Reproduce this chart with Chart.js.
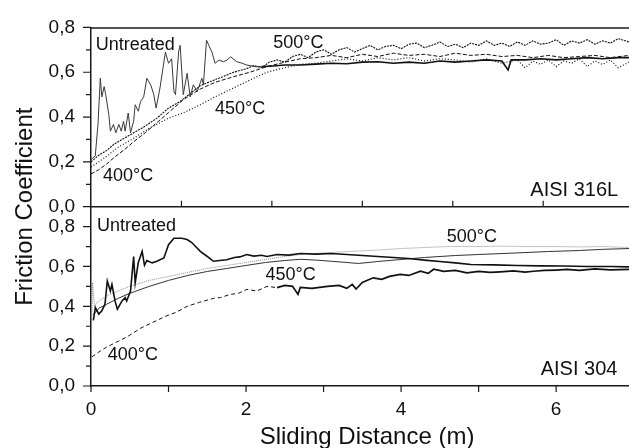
<!DOCTYPE html>
<html>
<head>
<meta charset="utf-8">
<script src="https://cdn.jsdelivr.net/npm/chart.js@4.4.0/dist/chart.umd.min.js"></script>
<style>
html, body { margin: 0; padding: 0; background: #fff; }
#wrap { position: relative; width: 629px; height: 448px; }
</style>
</head>
<body>
<div id="wrap"><canvas id="friction" width="629" height="448"></canvas></div>
<script>
// Friction coefficient vs sliding distance, two materials stacked
// points are [distance m, coefficient]

var xMajorTicks = [0, 2, 4, 6];
var xMinorTicks = [1, 3, 5];
var topPanelXTicks = [1.167, 2.333, 3.5, 4.667, 5.833];
var yMajorTicks = [0, 0.2, 0.4, 0.6, 0.8];
var yMinorTicks = [0.1, 0.3, 0.5, 0.7];

// --- AISI 316L (upper panel)
var top316Untreated = [[0,0.21],[0.055,0.227],[0.09,0.367],[0.12,0.573],[0.14,0.49],[0.17,0.536],[0.19,0.50],[0.23,0.41],[0.25,0.337],[0.29,0.367],
  [0.32,0.33],[0.36,0.367],[0.39,0.337],[0.42,0.381],[0.44,0.337],[0.48,0.418],[0.51,0.33],[0.55,0.381],[0.57,0.455],[0.61,0.426],
  [0.64,0.47],[0.68,0.49],[0.72,0.573],[0.77,0.544],[0.81,0.50],[0.84,0.44],[0.89,0.53],[0.96,0.69],[1.0,0.64],[1.04,0.66],
  [1.07,0.514],[1.09,0.50],[1.13,0.69],[1.15,0.72],[1.19,0.50],[1.24,0.595],[1.28,0.49],[1.32,0.544],[1.37,0.514],[1.43,0.573],
  [1.45,0.544],[1.49,0.743],[1.52,0.72],[1.56,0.69],[1.6,0.64],[1.65,0.654],[1.71,0.647],[1.76,0.655],[1.8,0.669],[1.88,0.647],
  [1.95,0.64],[2.01,0.632],[2.12,0.625],[2.2,0.625],[2.35,0.628],[2.5,0.632],[2.7,0.632],[2.9,0.636],[3.1,0.64],[3.3,0.638],
  [3.5,0.645],[3.7,0.647],[3.9,0.64],[4.1,0.645],[4.3,0.64],[4.5,0.65],[4.7,0.645],[4.9,0.65],[5.1,0.655],[5.3,0.65],
  [5.38,0.61],[5.42,0.655],[5.6,0.655],[5.8,0.66],[6.0,0.655],[6.2,0.66],[6.4,0.665],[6.6,0.66],[6.8,0.665],[6.94,0.665]];
var top316T500 = [[0,0.20],[0.1,0.23],[0.2,0.25],[0.3,0.28],[0.4,0.30],[0.55,0.33],[0.7,0.36],[0.85,0.395],[1.0,0.44],[1.15,0.47],
  [1.3,0.51],[1.41,0.54],[1.55,0.56],[1.7,0.58],[1.84,0.60],[2.0,0.615],[2.1,0.63],[2.2,0.62],[2.3,0.645],[2.4,0.655],
  [2.5,0.645],[2.6,0.67],[2.7,0.68],[2.8,0.665],[2.9,0.69],[3.0,0.70],[3.1,0.68],[3.2,0.70],[3.3,0.71],[3.4,0.69],
  [3.5,0.705],[3.6,0.72],[3.7,0.70],[3.8,0.715],[3.9,0.72],[4.0,0.705],[4.1,0.725],[4.2,0.73],[4.3,0.71],[4.4,0.72],
  [4.5,0.735],[4.6,0.715],[4.7,0.725],[4.8,0.71],[4.9,0.73],[5.0,0.72],[5.1,0.74],[5.2,0.72],[5.3,0.73],[5.4,0.715],
  [5.5,0.735],[5.6,0.72],[5.7,0.74],[5.8,0.725],[5.9,0.73],[6.0,0.745],[6.1,0.72],[6.2,0.74],[6.3,0.73],[6.4,0.745],
  [6.5,0.725],[6.6,0.74],[6.7,0.73],[6.8,0.75],[6.94,0.735]];
var top316T450 = [[0,0.177],[0.1,0.20],[0.2,0.225],[0.35,0.265],[0.55,0.305],[0.75,0.35],[1.0,0.395],[1.2,0.42],[1.41,0.455],[1.6,0.49],
  [1.84,0.53],[2.05,0.565],[2.27,0.60],[2.5,0.62],[2.7,0.635],[2.9,0.64],[3.1,0.65],[3.3,0.66],[3.5,0.65],[3.7,0.665],
  [3.9,0.655],[4.1,0.665],[4.3,0.65],[4.5,0.66],[4.7,0.655],[4.9,0.645],[5.1,0.66],[5.3,0.64],[5.5,0.655],[5.6,0.62],
  [5.7,0.65],[5.8,0.635],[5.9,0.655],[6.0,0.625],[6.1,0.65],[6.2,0.64],[6.3,0.66],[6.4,0.625],[6.5,0.65],[6.6,0.635],
  [6.7,0.655],[6.8,0.62],[6.94,0.645]];
var top316T400 = [[0,0.146],[0.1,0.165],[0.2,0.19],[0.3,0.22],[0.45,0.26],[0.55,0.29],[0.7,0.33],[0.85,0.375],[1.0,0.42],[1.2,0.48],
  [1.41,0.525],[1.6,0.555],[1.84,0.58],[2.05,0.60],[2.27,0.625],[2.5,0.645],[2.7,0.66],[2.9,0.665],[3.1,0.675],[3.3,0.665],
  [3.5,0.68],[3.7,0.67],[3.9,0.685],[4.1,0.675],[4.3,0.68],[4.5,0.67],[4.7,0.685],[4.9,0.675],[5.1,0.68],[5.3,0.67],
  [5.5,0.675],[5.7,0.665],[5.9,0.675],[6.1,0.665],[6.3,0.67],[6.5,0.675],[6.7,0.665],[6.94,0.675]];

// --- AISI 304 (lower panel)
var bot304Untreated = [[0.03,0.33],[0.056,0.394],[0.1,0.361],[0.14,0.378],[0.18,0.41],[0.21,0.527],[0.25,0.477],[0.27,0.51],[0.31,0.427],[0.34,0.386],
  [0.4,0.427],[0.44,0.443],[0.46,0.427],[0.51,0.477],[0.55,0.65],[0.57,0.518],[0.61,0.62],[0.66,0.675],[0.69,0.606],[0.72,0.63],
  [0.79,0.618],[0.85,0.626],[0.94,0.643],[1.0,0.709],[1.07,0.742],[1.17,0.742],[1.24,0.735],[1.3,0.72],[1.41,0.676],[1.5,0.65],
  [1.58,0.626],[1.66,0.63],[1.75,0.634],[1.85,0.645],[1.92,0.648],[2.01,0.66],[2.1,0.652],[2.2,0.656],[2.27,0.65],[2.4,0.66],
  [2.55,0.657],[2.7,0.665],[2.9,0.662],[3.1,0.665],[3.3,0.66],[3.5,0.655],[3.7,0.65],[3.9,0.645],[4.1,0.64],[4.3,0.632],
  [4.5,0.625],[4.7,0.618],[4.9,0.61],[5.2,0.608],[5.5,0.605],[5.8,0.603],[6.1,0.602],[6.4,0.60],[6.7,0.60],[6.94,0.598]];
var bot304T500 = [[0,0.16],[0.02,0.52],[0.045,0.40],[0.08,0.42],[0.15,0.44],[0.3,0.47],[0.5,0.50],[0.75,0.53],[1.0,0.55],[1.25,0.57],
  [1.5,0.59],[1.75,0.605],[2.0,0.62],[2.25,0.635],[2.5,0.65],[2.75,0.662],[3.0,0.668],[3.3,0.675],[3.6,0.68],[4.0,0.69],
  [4.3,0.695],[4.6,0.70],[5.0,0.70],[5.3,0.702],[5.6,0.70],[6.0,0.70],[6.3,0.698],[6.6,0.70],[6.94,0.695]];
var bot304T450 = [[0.03,0.36],[0.06,0.37],[0.1,0.39],[0.2,0.41],[0.35,0.44],[0.5,0.465],[0.75,0.50],[1.0,0.53],[1.25,0.555],[1.5,0.575],
  [1.75,0.59],[2.0,0.605],[2.25,0.62],[2.5,0.63],[2.7,0.636],[2.9,0.632],[3.1,0.626],[3.3,0.62],[3.45,0.615],[3.7,0.625],
  [4.0,0.635],[4.3,0.645],[4.7,0.655],[5.0,0.66],[5.5,0.668],[5.9,0.675],[6.3,0.68],[6.6,0.686],[6.94,0.69]];
var bot304T400 = [[0.01,0.146],[0.1,0.17],[0.2,0.195],[0.38,0.23],[0.5,0.255],[0.64,0.29],[0.8,0.32],[0.98,0.353],[1.1,0.37],[1.24,0.40],
  [1.4,0.42],[1.58,0.44],[1.67,0.444],[1.8,0.46],[1.9,0.465],[2.01,0.485],[2.14,0.477],[2.27,0.50],[2.4,0.494],[2.5,0.505],
  [2.6,0.50],[2.67,0.46],[2.7,0.495],[2.85,0.49],[3.05,0.50],[3.2,0.505],[3.3,0.49],[3.37,0.51],[3.42,0.487],[3.5,0.52],
  [3.64,0.543],[3.75,0.535],[3.85,0.55],[3.99,0.56],[4.1,0.555],[4.25,0.576],[4.35,0.565],[4.42,0.586],[4.55,0.575],[4.7,0.58],
  [4.85,0.568],[5.0,0.575],[5.15,0.57],[5.28,0.573],[5.45,0.578],[5.6,0.572],[5.71,0.576],[5.85,0.58],[6.0,0.582],[6.14,0.585],
  [6.3,0.58],[6.5,0.588],[6.7,0.583],[6.94,0.585]];

var FONT = '"Liberation Sans", Arial, Helvetica, sans-serif';
var INK = '#111';

// text placed in data units of each panel
var notes = [
    { text: 'Untreated', axis: 'yTop', x: 0.06, y: 0.70, size: 18 },
    { text: '500°C', axis: 'yTop', x: 2.35, y: 0.706, size: 18 },
    { text: '450°C', axis: 'yTop', x: 1.60, y: 0.413, size: 18 },
    { text: '400°C', axis: 'yTop', x: 0.155, y: 0.113, size: 18 },
    { text: 'AISI 316L', axis: 'yTop', x: 6.80, y: 0.047, size: 20, align: 'right' },
    { text: 'Untreated', axis: 'yBot', x: 0.077, y: 0.78, size: 18 },
    { text: '500°C', axis: 'yBot', x: 4.59, y: 0.725, size: 18 },
    { text: '450°C', axis: 'yBot', x: 2.25, y: 0.533, size: 18 },
    { text: '400°C', axis: 'yBot', x: 0.215, y: 0.129, size: 18 },
    { text: 'AISI 304', axis: 'yBot', x: 6.79, y: 0.054, size: 20, align: 'right' }
];

function toPoints(arr) {
    return arr.map(function(p) { return { x: p[0], y: p[1] }; });
}

function line(label, pts, axis, color, width, dash) {
    return {
        label: label,
        data: toPoints(pts),
        yAxisID: axis,
        borderColor: color,
        borderWidth: width,
        borderDash: dash || [],
        pointRadius: 0,
        tension: 0,
        fill: false
    };
}

// thin spiky run-in, heavier trace once it settles
var upperUntreated = line('AISI 316L Untreated', top316Untreated, 'yTop', '#333', 1);
upperUntreated.segment = {
    borderWidth: function(c) { return c.p0.parsed.x < 2.2 ? 1 : 1.6; },
    borderColor: function(c) { return c.p0.parsed.x < 2.2 ? '#3a3a3a' : '#111'; }
};

var lower400 = line('AISI 304 400°C', bot304T400, 'yBot', INK, 1.5);
// dashed at the start, heavy jagged trace later
lower400.segment = {
    borderDash: function(c) { return c.p0.parsed.x < 2.3 ? [4, 3] : undefined; },
    borderWidth: function(c) { return c.p0.parsed.x < 2.3 ? 1 : 1.7; }
};

var datasets = [
    upperUntreated,
    line('AISI 316L 500°C', top316T500, 'yTop', '#111', 1.1, [2, 1]),
    line('AISI 316L 450°C', top316T450, 'yTop', '#111', 1.2, [1, 2]),
    line('AISI 316L 400°C', top316T400, 'yTop', '#111', 1, [4, 2]),
    line('AISI 304 Untreated', bot304Untreated, 'yBot', INK, 1.6),
    line('AISI 304 500°C', bot304T500, 'yBot', '#8a8a8a', 1, [1, 1]),
    line('AISI 304 450°C', bot304T450, 'yBot', '#333', 1),
    lower400
];

function commaLabel(v) {
    return v.toFixed(1).replace('.', ',');
}

function yScale(max, weight) {
    return {
        type: 'linear',
        position: 'left',
        stack: 'panels',
        stackWeight: 1,
        weight: weight,
        min: 0,
        max: max,
        afterBuildTicks: function(s) {
            s.ticks = yMajorTicks.map(function(v) { return { value: v }; });
        },
        afterFit: function(s) { s.width = 91; },
        grid: { display: false, drawTicks: false },
        border: { display: true, color: '#1a1a1a', width: 1.5 },
        ticks: {
            color: INK,
            padding: 16,
            font: { family: FONT, size: 19 },
            callback: function(v) { return commaLabel(v); }
        }
    };
}

// frames, inward/outward tick marks, titles and notes
var panelDecor = {
    id: 'panelDecor',
    afterDraw: function(chart) {
        var ctx = chart.ctx;
        var xs = chart.scales.x;
        var yT = chart.scales.yTop;
        var yB = chart.scales.yBot;
        var left = xs.left, right = xs.right;

        ctx.save();
        ctx.strokeStyle = '#1a1a1a';
        ctx.lineWidth = 1.5;
        ctx.beginPath();
        ctx.moveTo(left, yT.top + 0.5); ctx.lineTo(right, yT.top + 0.5);
        ctx.moveTo(left, yT.bottom); ctx.lineTo(right, yT.bottom);
        ctx.stroke();

        ctx.lineWidth = 1.2;
        ctx.beginPath();
        [yT, yB].forEach(function(ys) {
            yMajorTicks.forEach(function(v) {
                var p = ys.getPixelForValue(v);
                ctx.moveTo(left, p); ctx.lineTo(left - 8, p);
            });
            yMinorTicks.forEach(function(v) {
                var p = ys.getPixelForValue(v);
                ctx.moveTo(left, p); ctx.lineTo(left - 5, p);
            });
        });
        xMajorTicks.concat(xMinorTicks).forEach(function(v) {
            var p = xs.getPixelForValue(v);
            ctx.moveTo(p, yB.bottom); ctx.lineTo(p, yB.bottom + 6);
        });
        topPanelXTicks.forEach(function(v) {
            var p = xs.getPixelForValue(v);
            ctx.moveTo(p, yT.bottom); ctx.lineTo(p, yT.bottom - 6);
        });
        ctx.stroke();

        ctx.fillStyle = INK;
        ctx.textBaseline = 'alphabetic';
        notes.forEach(function(n) {
            var ys = chart.scales[n.axis];
            ctx.font = n.size + 'px ' + FONT;
            ctx.textAlign = n.align || 'left';
            ctx.fillText(n.text, xs.getPixelForValue(n.x), ys.getPixelForValue(n.y));
        });

        ctx.font = '24px ' + FONT;
        ctx.textAlign = 'center';
        ctx.fillText('Sliding Distance (m)', 367, 444);

        ctx.translate(32, (yT.top + yB.bottom) / 2);
        ctx.rotate(-Math.PI / 2);
        ctx.fillText('Friction Coefficient', 0, 0);
        ctx.restore();
    }
};

new Chart(document.getElementById('friction').getContext('2d'), {
    type: 'line',
    data: { datasets: datasets },
    options: {
        responsive: false,
        animation: false,
        parsing: true,
        layout: { padding: { top: 22, right: 0, bottom: 0, left: 0 } },
        plugins: {
            legend: { display: false },
            tooltip: { enabled: false }
        },
        scales: {
            x: {
                type: 'linear',
                min: 0,
                max: 6.94,
                afterBuildTicks: function(s) {
                    s.ticks = xMajorTicks.map(function(v) { return { value: v }; });
                },
                afterFit: function(s) { s.height = 62; },
                grid: { display: false, drawTicks: false },
                border: { display: true, color: '#1a1a1a', width: 1.5 },
                ticks: {
                    color: INK,
                    padding: 12,
                    maxRotation: 0,
                    font: { family: FONT, size: 19 }
                }
            },
            yBot: yScale(0.9, 1),
            yTop: yScale(0.8, 2)
        }
    },
    plugins: [panelDecor]
});
</script>
</body>
</html>
